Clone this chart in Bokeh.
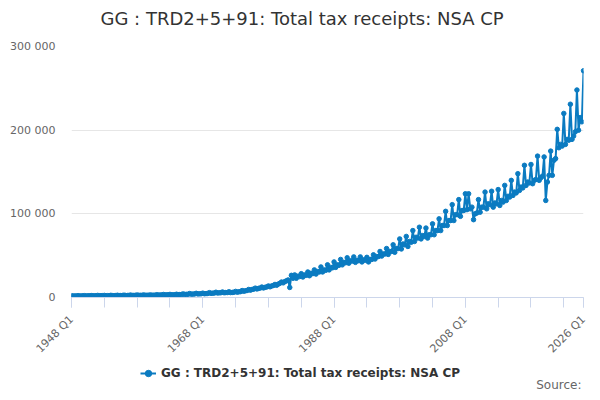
import math
from bokeh.plotting import figure
from bokeh.layouts import column
from bokeh.models import (Range1d, FixedTicker, Legend, LegendItem, Title, Label,
                          ColumnDataSource)
from bokeh.embed import file_html
from bokeh.resources import INLINE

TITLE = "GG : TRD2+5+91: Total tax receipts: NSA CP"
SERIES_NAME = "GG : TRD2+5+91: Total tax receipts: NSA CP"
SOURCE_TEXT = "Source:"

first_year = 1948

# Quarterly values (GBP million), Q1..Q4 per year
values_1948_1967 = [
    2100, 1800, 1900, 1900,
    2200, 1900, 1900, 2000,
    2200, 1900, 2000, 2000,
    2300, 2000, 2100, 2100,
    2500, 2100, 2200, 2200,
    2500, 2100, 2200, 2200,
    2600, 2200, 2200, 2300,
    2700, 2300, 2300, 2400,
    2800, 2400, 2400, 2500,
    2900, 2500, 2500, 2600,
    3000, 2600, 2600, 2600,
    3100, 2600, 2700, 2700,
    3100, 2700, 2800, 2800,
    3300, 2900, 3000, 3000,
    3600, 3100, 3200, 3200,
    3700, 3200, 3200, 3300,
    3900, 3400, 3500, 3600,
    4300, 3700, 3800, 3900,
    4700, 4000, 4100, 4200,
    5000, 4300, 4400, 4500,
]
values_1968_1987 = [
    5200, 4500, 4700, 4800,
    5800, 5000, 5200, 5300,
    6300, 5400, 5600, 5700,
    6600, 5700, 5900, 6000,
    6800, 5900, 6100, 6300,
    7300, 6400, 6800, 7000,
    8300, 7500, 8000, 8400,
    9600, 8800, 9600, 10000,
    11200, 10200, 10900, 11300,
    12500, 11400, 12200, 12600,
    13800, 12800, 13800, 14400,
    15600, 14600, 16000, 17000,
    18500, 17500, 19000, 20000,
    21000, 12000, 26500, 23000,
    27000, 23000, 25500, 25000,
    28500, 24500, 27000, 26500,
    30500, 26000, 29000, 28500,
    33000, 28000, 31000, 30500,
    36500, 30500, 33000, 32500,
    39000, 33000, 36000, 35500,
]
values_1988_2007 = [
    42500, 36000, 39000, 38500,
    45500, 39000, 42000, 41500,
    47500, 41000, 44000, 43500,
    48500, 42000, 44500, 44000,
    48500, 42500, 45000, 44500,
    48000, 42500, 45500, 45500,
    51000, 46000, 49000, 49000,
    55000, 49500, 52000, 52000,
    58500, 51500, 55000, 55000,
    63000, 54000, 58500, 58500,
    70000, 58000, 64000, 63000,
    73000, 61000, 67000, 66000,
    80000, 67000, 72000, 71000,
    84000, 70000, 74000, 73000,
    83000, 71000, 75000, 75000,
    88000, 75000, 80000, 80000,
    94000, 80000, 86000, 86000,
    103000, 86000, 92000, 92000,
    111000, 92000, 99000, 99000,
    117000, 97000, 104000, 104000,
]
values_2008_2026 = [
    124000, 105000, 124000, 106000,
    108000, 93000, 100000, 101000,
    117000, 102000, 108000, 108000,
    126000, 106000, 112000, 111000,
    127000, 108000, 113000, 112000,
    129000, 110000, 116000, 114000,
    134000, 116000, 121000, 120000,
    140000, 122000, 126000, 125000,
    148000, 128000, 132000, 131000,
    158000, 134000, 138000, 137000,
    159000, 136000, 140000, 141000,
    169000, 140000, 143000, 145000,
    168000, 116000, 138000, 146000,
    175000, 146000, 164000, 166000,
    201000, 179000, 183000, 181000,
    220000, 183000, 189000, 188000,
    231000, 189000, 193000, 198000,
    248000, 200000, 215000, 210000,
    271000,
]

values = values_1948_1967 + values_1968_1987 + values_1988_2007 + values_2008_2026
n = len(values)
periods = [f"{first_year + i // 4} Q{i % 4 + 1}" for i in range(n)]

y_ticks = [0, 100000, 200000, 300000]
x_label_idx = [0, 80, 160, 240, n - 1]
x_minor_idx = list(range(0, n, 20)) + [n - 1]

BLUE = "#0b7bc1"

src = ColumnDataSource(dict(x=list(range(n)), y=values, period=periods))

p = figure(width=592, height=363, output_backend="svg", toolbar_location=None,
           title=None,
           x_range=Range1d(0, n - 1), y_range=Range1d(0, 300000),
           min_border_left=71, min_border_right=9, min_border_top=45,
           min_border_bottom=66)

# spacer between frame and title, then the title itself
p.add_layout(Title(text=" ", text_font_size="1px", standoff=10), "above")
p.add_layout(Title(text=TITLE, align="left", offset=29,
                   text_font="DejaVu Sans", text_font_size="18px",
                   text_font_style="normal", text_color="#333333"), "above")

p.outline_line_color = None
p.background_fill_color = "white"
p.border_fill_color = "white"

r_line = p.line("x", "y", source=src, line_color=BLUE, line_width=2)
r_pts = p.scatter("x", "y", source=src, size=4.5, color=BLUE)

# x axis
xa = p.xaxis[0]
xa.ticker = FixedTicker(ticks=x_label_idx, minor_ticks=x_minor_idx)
xa.major_label_overrides = {i: periods[i] for i in x_label_idx}
xa.major_label_orientation = math.pi / 4
xa.axis_line_color = "#ccd6eb"
xa.major_tick_line_color = "#ccd6eb"
xa.minor_tick_line_color = "#ccd6eb"
xa.major_tick_in = 0
xa.major_tick_out = 10
xa.minor_tick_in = 0
xa.minor_tick_out = 10
xa.major_label_standoff = 10
xa.major_label_text_font = "DejaVu Sans"
xa.major_label_text_font_size = "11px"
xa.major_label_text_color = "#666666"

# y axis
ya = p.yaxis[0]
ya.ticker = FixedTicker(ticks=y_ticks)
ya.major_label_overrides = {t: f"{t:,}".replace(",", " ") for t in y_ticks}
ya.axis_line_color = None
ya.major_tick_line_color = None
ya.minor_tick_line_color = None
ya.major_tick_out = 0
ya.major_tick_in = 0
ya.minor_tick_out = 0
ya.minor_tick_in = 0
ya.major_label_standoff = 16
ya.major_label_text_font = "DejaVu Sans"
ya.major_label_text_font_size = "11px"
ya.major_label_text_color = "#666666"

p.xgrid.grid_line_color = None
p.ygrid.grid_line_color = "#e6e6e6"
p.ygrid.ticker = FixedTicker(ticks=y_ticks)

# legend strip below the chart (its frame is aligned with the chart's frame)
q = figure(width=592, height=29, output_backend="svg", toolbar_location=None,
           title=None, x_axis_type=None, y_axis_type=None,
           x_range=Range1d(0, 1), y_range=Range1d(0, 1),
           min_border_left=0, min_border_right=0, min_border_top=0,
           min_border_bottom=0)
q.outline_line_color = None
q.background_fill_color = "white"
q.border_fill_color = "white"
lg_src = ColumnDataSource(dict(x=[-5.0, -4.0], y=[-5.0, -5.0]))
q_line = q.line("x", "y", source=lg_src, line_color=BLUE, line_width=2)
q_pts = q.scatter("x", "y", source=lg_src, size=4.5, color=BLUE)

legend = Legend(items=[LegendItem(label=SERIES_NAME, renderers=[q_line, q_pts])],
                location=(69, 11), orientation="horizontal",
                glyph_width=16, glyph_height=16, label_standoff=5,
                padding=0, margin=0, border_line_color=None,
                background_fill_alpha=0,
                label_text_font="DejaVu Sans", label_text_font_size="12px",
                label_text_font_style="bold", label_text_color="#333333")
q.add_layout(legend, "center")

q.add_layout(Label(x=510, y=8, x_units="screen", y_units="screen",
                   text=SOURCE_TEXT, text_align="right", text_baseline="middle",
                   text_font="DejaVu Sans", text_font_size="12px",
                   text_color="#666666"))

layout = column(p, q, spacing=0)
open("out.html", "w").write(file_html(layout, INLINE))
